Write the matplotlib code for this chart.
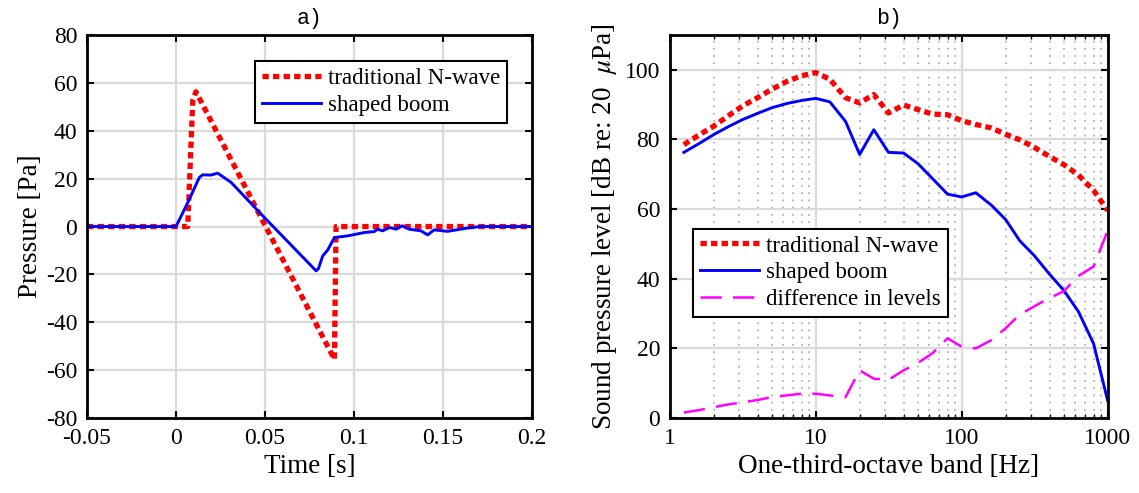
import matplotlib
matplotlib.use("Agg")
import matplotlib.pyplot as plt
import numpy as np

# ---- panel a) pressure signatures
t_nwave = [-0.05, 0.0066, 0.0094, 0.0112, 0.089, 0.0899, 0.2]
p_nwave = [0, 0, 52.6, 56.3, -55.5, 0, 0]

t_shaped = [-0.05, 0.0, 0.0066, 0.0131, 0.015, 0.0197, 0.0234, 0.031, 0.0487,
            0.0787, 0.080, 0.0824, 0.0852, 0.089, 0.0964, 0.1058, 0.1114,
            0.1133, 0.116, 0.120, 0.1236, 0.127, 0.131, 0.1376, 0.1414,
            0.145, 0.1526, 0.164, 0.171, 0.2]
p_shaped = [0, 0, 10, 20.5, 21.6, 21.5, 22.3, 18.4, 4.5,
            -18.5, -17.6, -12.3, -9.8, -4.6, -3.9, -2.5, -2.1,
            -1.1, -1.8, -0.4, -1.1, 0.3, -1.1, -1.8, -3.5,
            -1.4, -2.0, -0.6, 0, 0]

# ---- panel b) one-third-octave spectra
bands = [1.25, 1.6, 2, 2.5, 3.15, 4, 5, 6.3, 8, 10, 12.5, 16, 20, 25, 31.5,
         40, 50, 63, 80, 100, 125, 160, 200, 250, 315, 400, 500, 630, 800, 1000]
spl_nwave = [78.5, 81.4, 83.8, 86.7, 89.6, 92.0, 94.4, 96.6, 98.3, 99.2,
             97.3, 92.0, 90.5, 92.9, 87.6, 89.9, 88.6, 87.3, 87.1, 85.4,
             84.3, 83.3, 81.5, 79.9, 77.7, 75.1, 72.8, 69.8, 65.4, 59.6]
spl_shaped = [76.3, 78.9, 81.4, 83.6, 85.7, 87.5, 89.1, 90.3, 91.2, 91.8,
              90.8, 85.2, 75.7, 82.8, 76.3, 76.1, 73.1, 68.8, 64.3, 63.5,
              64.7, 61.1, 57.0, 50.9, 46.6, 41.3, 36.7, 30.6, 21.4, 5.0]
spl_diff = [1.6, 2.3, 3.1, 3.9, 4.5, 5.2, 6.0, 6.5, 7.0, 7.0,
            6.5, 6.0, 13.7, 11.3, 11.0, 13.7, 15.8, 18.6, 22.9, 20.5,
            20.0, 22.4, 25.8, 29.7, 32.1, 34.5, 36.4, 40.8, 43.5, 53.8]

plt.rcParams["font.family"] = "Liberation Serif"
plt.rcParams["mathtext.fontset"] = "stix"
plt.rcParams["axes.unicode_minus"] = False

fig = plt.figure(figsize=(11.39, 4.93), dpi=100)
ax1 = fig.add_axes([0.0764, 0.152, 0.3907, 0.777])
ax2 = fig.add_axes([0.588, 0.152, 0.3845, 0.777])

red_dots = (0, (1.2, 0.8))
tick_fs = 17
label_fs = 19.5
legend_fs = 16.5


def style_axes(ax):
    for s in ax.spines.values():
        s.set_linewidth(2.0)
        s.set_color("black")
        s.set_zorder(5)
    ax.tick_params(which="both", direction="in", top=True, right=True,
                   labelsize=tick_fs, width=1.5, pad=7)
    ax.tick_params(which="major", length=5)
    ax.set_axisbelow(True)
    ax.grid(True, which="major", color="#dadada", linewidth=1.6)


def add_legend(ax, **kw):
    leg = ax.legend(fontsize=legend_fs, fancybox=False, framealpha=1,
                    edgecolor="black", handlelength=2.6, borderpad=0.3,
                    labelspacing=0.25, handletextpad=0.3, borderaxespad=0.0,
                    **kw)
    leg.get_frame().set_linewidth(1.5)
    return leg


# a)
ax1.plot(t_nwave, p_nwave, color="red", lw=3.8, linestyle=red_dots,
         label="traditional N-wave")
ax1.plot(t_shaped, p_shaped, color="blue", lw=2.1, label="shaped boom")
ax1.set_xlim(-0.05, 0.2)
ax1.set_ylim(-80, 80)
ax1.set_xticks([-0.05, 0, 0.05, 0.1, 0.15, 0.2])
ax1.set_xticklabels(["-0.05", "0", "0.05", "0.1", "0.15", "0.2"])
ax1.set_yticks(np.arange(-80, 81, 20))
style_axes(ax1)
ax1.tick_params(which="minor", length=0)
ax1.set_xlabel("Time [s]", fontsize=label_fs, labelpad=4)
ax1.set_ylabel("Pressure [Pa]", fontsize=label_fs, labelpad=2)
ax1.set_title("a)", fontsize=15.5, family="Liberation Mono", pad=8)
add_legend(ax1, loc="upper right", bbox_to_anchor=(0.944, 0.932))

# b)
ax2.semilogx(bands, spl_nwave, color="red", lw=3.8, linestyle=red_dots,
             label="traditional N-wave")
ax2.semilogx(bands, spl_shaped, color="blue", lw=2.1, label="shaped boom")
ax2.semilogx(bands, spl_diff, color="magenta", lw=1.8,
             linestyle=(0, (8.5, 4.5)), label="difference in levels")
ax2.set_xlim(1, 1000)
ax2.set_ylim(0, 110)
ax2.set_yticks(np.arange(0, 101, 20))
ax2.set_xticks([1, 10, 100, 1000])
ax2.set_xticklabels(["1", "10", "100", "1000"])
style_axes(ax2)
ax2.tick_params(which="minor", direction="in", length=3, width=1.0)
ax2.grid(True, which="minor", axis="x", color="#b4b4b4", linewidth=1.3,
         linestyle=(0, (1, 3)))
ax2.set_xlabel("One-third-octave band [Hz]", fontsize=label_fs, labelpad=4)
ax2.set_ylabel(r"Sound pressure level [dB re: 20  $\mu$Pa]",
               fontsize=label_fs, labelpad=4)
ax2.set_title("b)", fontsize=15.5, family="Liberation Mono", pad=8)
add_legend(ax2, loc="lower left", bbox_to_anchor=(0.0525, 0.264))

fig.savefig("out.png", dpi=100)
plt.close(fig)
